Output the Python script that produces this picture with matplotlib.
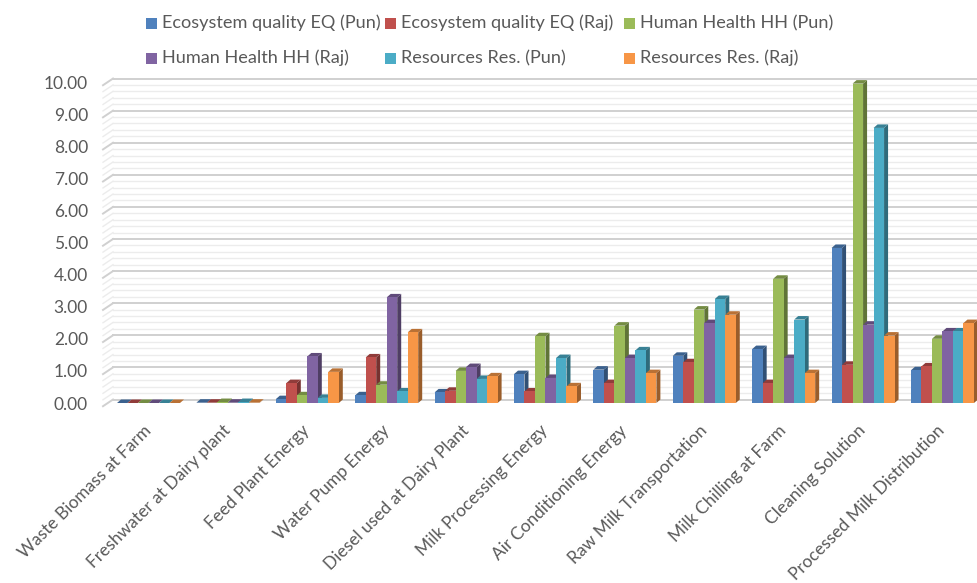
import numpy as np
import matplotlib
matplotlib.use("Agg")
import matplotlib.pyplot as plt
from matplotlib.patches import Polygon, Rectangle
from matplotlib.colors import to_rgb

plt.rcParams["font.family"] = ["Lato", "DejaVu Sans"]

categories = ["Waste Biomass at Farm", "Freshwater at Dairy plant", "Feed Plant Energy",
              "Water Pump Energy", "Diesel used at Dairy Plant", "Milk Processing Energy",
              "Air Conditioning Energy", "Raw Milk Transportation", "Milk Chilling at Farm",
              "Cleaning Solution", "Processed Milk Distribution"]

series_names = ["Ecosystem quality EQ (Pun)", "Ecosystem quality EQ (Raj)",
                "Human Health HH (Pun)", "Human Health HH (Raj)",
                "Resources Res. (Pun)", "Resources Res. (Raj)"]

eq_pun  = [0.00, 0.01, 0.12, 0.24, 0.33, 0.90, 1.04, 1.47, 1.68, 4.83, 1.02]
eq_raj  = [0.00, 0.01, 0.62, 1.42, 0.38, 0.36, 0.62, 1.27, 0.62, 1.19, 1.14]
hh_pun  = [0.00, 0.03, 0.24, 0.57, 1.00, 2.08, 2.41, 2.91, 3.87, 9.95, 2.00]
hh_raj  = [0.00, 0.01, 1.45, 3.29, 1.12, 0.78, 1.40, 2.49, 1.40, 2.44, 2.23]
res_pun = [0.00, 0.03, 0.16, 0.36, 0.75, 1.40, 1.64, 3.24, 2.60, 8.57, 2.23]
res_raj = [0.00, 0.01, 0.97, 2.20, 0.83, 0.52, 0.93, 2.75, 0.93, 2.10, 2.49]

series = [eq_pun, eq_raj, hh_pun, hh_raj, res_pun, res_raj]
colors = ["#4F81BD", "#C0504D", "#9BBB59", "#8064A2", "#4BACC6", "#F79646"]

TXT = "#595959"
W, H = 977, 583

fig = plt.figure(figsize=(W / 100, H / 100), dpi=100)
# axes box in pixels: left 95, right 977, top 65, bottom 410
ax = fig.add_axes([95 / W, (H - 410) / H, 882 / W, 345 / H])
x0, x1 = -0.674, 10.435
y0, y1 = -0.218, 10.53
ax.set_xlim(x0, x1)
ax.set_ylim(y0, y1)
for s in ax.spines.values():
    s.set_visible(False)

ppx = 882 / (x1 - x0)   # pixels per x unit
ppy = 345 / (y1 - y0)   # pixels per y unit


def shade(c, f):
    r, g, b = to_rgb(c)
    return (r * f, g * f, b * f)


# back wall and left side wall
wall_l = (113 - 95) / ppx + x0
side_l = (103 - 95) / ppx + x0
wall_dy = 3.5 / ppy
for v in np.arange(0, 10.01, 0.2):
    major = abs(v - round(v)) < 1e-6
    col = "#d0d0d0" if major else "#ececec"
    lw = 1.4 if major else 1.0
    ax.plot([wall_l, x1], [v + wall_dy, v + wall_dy], color=col, lw=lw, zorder=1)
    ax.plot([side_l, wall_l], [v - 0.1, v + wall_dy], color=col, lw=lw, zorder=1)

# 3D-looking clustered columns
bw = 10.5 / ppx
dx = 4.0 / ppx
dy = 3.5 / ppy
n = len(series)
for i in range(len(categories)):
    for j in range(n):
        h = series[j][i]
        c = colors[j]
        xl = i + (j - n / 2) * bw
        z = 3 + j * 0.01
        ax.add_patch(Polygon([(xl + bw, 0), (xl + bw + dx, dy), (xl + bw + dx, h + dy), (xl + bw, h)],
                             closed=True, facecolor=shade(c, 0.62), edgecolor="none", zorder=z))
        ax.add_patch(Polygon([(xl, h), (xl + bw, h), (xl + bw + dx, h + dy), (xl + dx, h + dy)],
                             closed=True, facecolor=shade(c, 0.75), edgecolor="none", zorder=z))
        ax.add_patch(Rectangle((xl, 0), bw, h, facecolor=c, edgecolor="none", zorder=z))

ax.set_yticks(np.arange(0, 11, 1))
ax.set_yticklabels([f"{v:.2f}" for v in range(11)])
ax.set_xticks(range(len(categories)))
ax.set_xticklabels(categories, rotation=45, ha="right", va="center", rotation_mode="anchor")
ax.tick_params(axis="y", length=0, pad=5, labelsize=12.5, labelcolor=TXT)
ax.tick_params(axis="x", length=0, pad=13, labelsize=12.5, labelcolor=TXT)

# legend: two rows of three entries
leg_cols = [146, 385, 624]
leg_rows = [23, 58]
for k, name in enumerate(series_names):
    px = leg_cols[k % 3]
    py = leg_rows[k // 3]
    fig.patches.append(Rectangle((px / W, (H - py - 5.5) / H), 11 / W, 11 / H,
                                 transform=fig.transFigure, facecolor=colors[k],
                                 edgecolor="none"))
    fig.text((px + 16) / W, (H - py) / H, name, ha="left", va="center",
             fontsize=13.1, color=TXT)

fig.savefig("out.png", dpi=100, facecolor="white")
